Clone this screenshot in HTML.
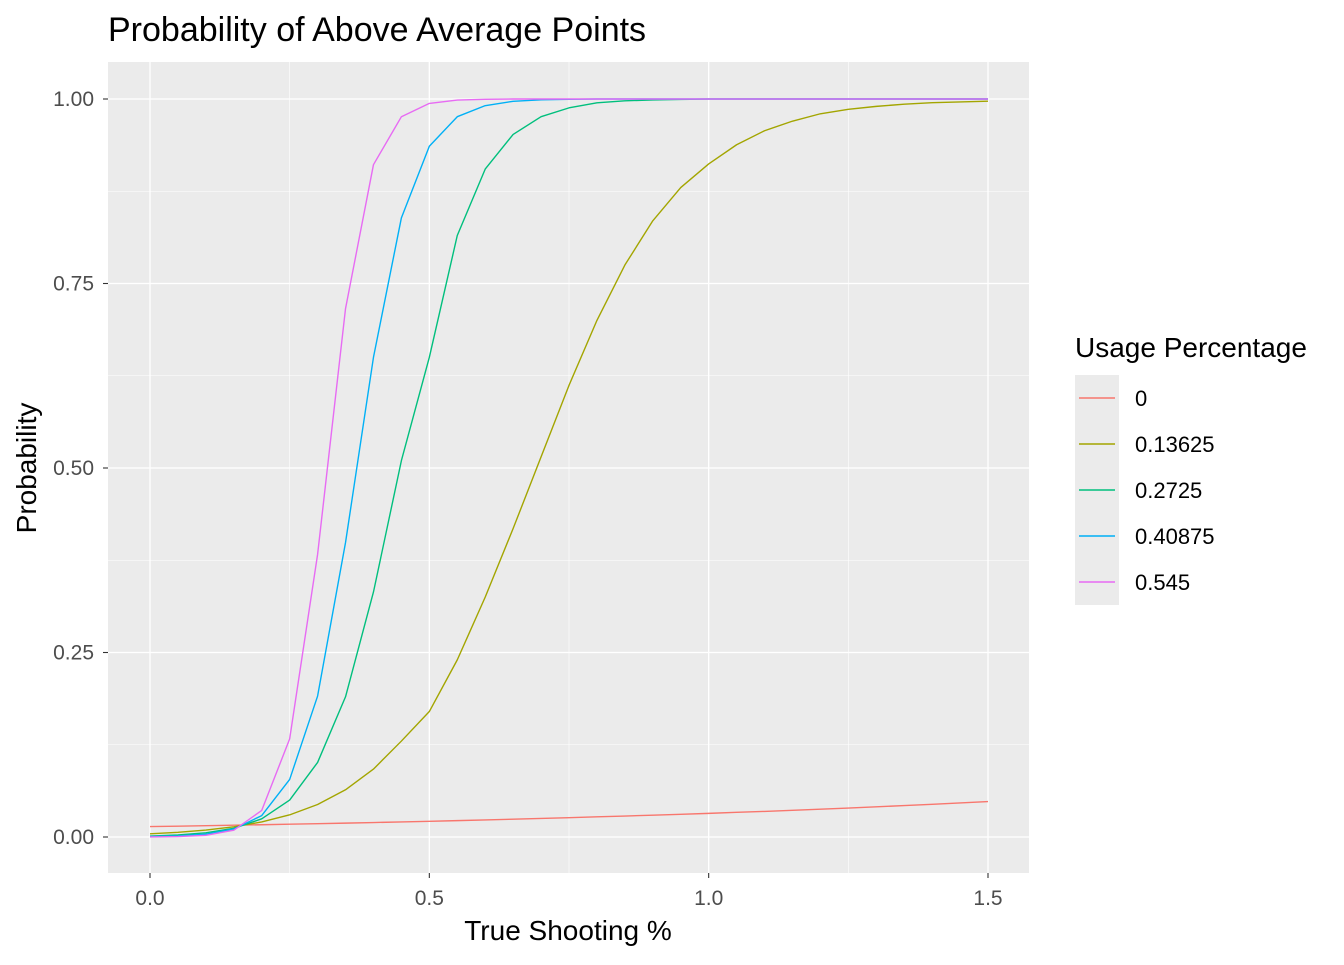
<!DOCTYPE html>
<html><head><meta charset="utf-8"><style>
body{margin:0;background:#fff;}
svg text{font-family:"Liberation Sans",Arial,sans-serif;}
</style></head><body>
<svg id="chart" width="1344" height="960" xmlns="http://www.w3.org/2000/svg">
<rect width="1344" height="960" fill="#fff"/>
<text x="108" y="41" font-size="34" fill="#000">Probability of Above Average Points</text>
<rect x="108" y="62" width="921" height="811" fill="#ebebeb"/>
<g id="grid"></g>
<g id="series"></g>
<g id="axes"></g>
<text x="568" y="940" font-size="28" text-anchor="middle" fill="#000">True Shooting %</text>
<text transform="translate(36,468) rotate(-90)" font-size="28" text-anchor="middle" fill="#000">Probability</text>
<g id="legend"></g>
</svg>
<script>
const xs=[0,0.05,0.1,0.15,0.2,0.25,0.3,0.35,0.4,0.45,0.5,0.55,0.6,0.65,0.7,0.75,0.8,0.85,0.9,0.95,1.0,1.05,1.1,1.15,1.2,1.25,1.3,1.35,1.4,1.45,1.5];
const seriesNames=["0","0.13625","0.2725","0.40875","0.545"];
const seriesColors=["#F8766D","#A3A500","#00BF7D","#00B0F6","#E76BF3"];
const s0=[.0141,.0147,.0153,.016,.0166,.0173,.0181,.0188,.0196,.0204,.0213,.0222,.0231,.0241,.0251,.0262,.0273,.0284,.0296,.0308,.032,.0334,.0347,.0362,.0377,.0392,.0409,.0426,.0443,.0461,.048];
const s1=[.0043,.0063,.0094,.0138,.0204,.030,.044,.064,.092,.130,.170,.240,.325,.418,.515,.612,.700,.775,.835,.880,.912,.938,.957,.970,.980,.986,.990,.993,.995,.996,.997];
const s2=[.0013,.0027,.0057,.0118,.0246,.050,.101,.190,.332,.51,.650,.815,.905,.952,.976,.988,.9948,.9975,.9988,.9994,1,1,1,1,1,1,1,1,1,1,1];
const s3=[.0005,.0014,.0038,.0107,.029,.078,.191,.399,.65,.839,.936,.976,.991,.9969,.9989,.9996,1,1,1,1,1,1,1,1,1,1,1,1,1,1,1];
const s4=[.0001,.0006,.0023,.0092,.036,.133,.383,.716,.911,.976,.994,.9985,.9996,1,1,1,1,1,1,1,1,1,1,1,1,1,1,1,1,1,1];
const allSeries=[s0,s1,s2,s3,s4];
const xTicks=[0,0.5,1.0,1.5];
const xTickLabels=["0.0","0.5","1.0","1.5"];
const yTicks=[0,0.25,0.5,0.75,1.0];
const yTickLabels=["0.00","0.25","0.50","0.75","1.00"];

const NS="http://www.w3.org/2000/svg";
const X=v=>150+v*(988-150)/1.5;
const Y=v=>837-v*(837-99);
function mk(tag,attrs,parent){const e=document.createElementNS(NS,tag);for(const k in attrs)e.setAttribute(k,attrs[k]);parent.appendChild(e);return e;}
const grid=document.getElementById('grid'),axes=document.getElementById('axes'),ser=document.getElementById('series'),leg=document.getElementById('legend');
for(let i=0;i<xTicks.length-1;i++){const m=(xTicks[i]+xTicks[i+1])/2;
 const l=mk('line',{x1:X(m),x2:X(m),y1:62,y2:873,stroke:'#fff','stroke-width':0.6},grid);
 
 }
for(let i=0;i<yTicks.length-1;i++){const m=(yTicks[i]+yTicks[i+1])/2;
 const l=mk('line',{x1:108,x2:1029,y1:Y(m),y2:Y(m),stroke:'#fff','stroke-width':0.6},grid);
 
 }
xTicks.forEach((t,i)=>{
 const l=mk('line',{x1:X(t),x2:X(t),y1:62,y2:873,stroke:'#fff','stroke-width':1.3},grid);
 
 
 const tk=mk('line',{x1:X(t),x2:X(t),y1:873,y2:878,stroke:'#333','stroke-width':1.1},axes);
 
 
 const tx=mk('text',{x:X(t),y:905,'font-size':21,'text-anchor':'middle',fill:'#4d4d4d'},axes);
 tx.textContent=xTickLabels[i];
 
 
});
yTicks.forEach((t,i)=>{
 const l=mk('line',{x1:108,x2:1029,y1:Y(t),y2:Y(t),stroke:'#fff','stroke-width':1.3},grid);
 
 
 const tk=mk('line',{x1:103,x2:108,y1:Y(t),y2:Y(t),stroke:'#333','stroke-width':1.1},axes);
 
 
 const tx=mk('text',{x:94,y:Y(t)+7,'font-size':21,'text-anchor':'end',fill:'#4d4d4d'},axes);
 tx.textContent=yTickLabels[i];
 
 
});
allSeries.forEach((s,k)=>{
 const d=s.map((v,i)=>(i?'L':'M')+X(xs[i]).toFixed(2)+','+Y(v).toFixed(2)).join('');
 const p=mk('path',{d:d,fill:'none',stroke:seriesColors[k],'stroke-width':1.4,'stroke-linejoin':'round'},ser);
 
 
});
const lt=mk('text',{x:1075,y:357,'font-size':28,fill:'#000'},leg);
lt.textContent='Usage Percentage';


const lb=mk('rect',{x:1075,y:375,width:44,height:230,fill:'#ebebeb'},leg);


seriesNames.forEach((n,k)=>{
 const cy=398+k*46;
 const l=mk('line',{x1:1079,x2:1115,y1:cy,y2:cy,stroke:seriesColors[k],'stroke-width':1.4},leg);
 
 
 const t=mk('text',{x:1135,y:cy+8,'font-size':22,fill:'#000'},leg);
 t.textContent=n;
 
 
});
</script>
</body></html>
